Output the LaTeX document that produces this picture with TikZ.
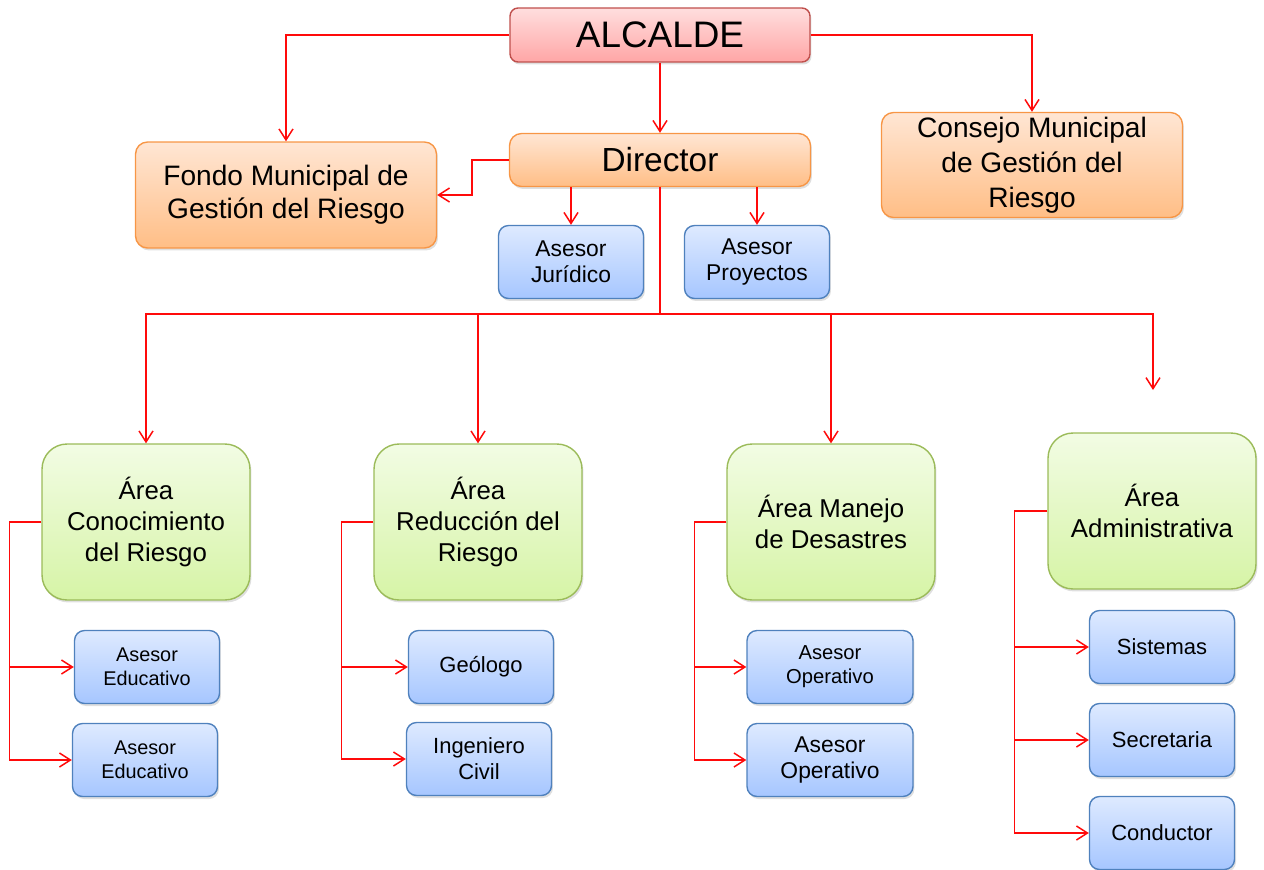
\documentclass[tikz,border=0pt]{standalone}
\usepackage{fontspec}
\setmainfont{Liberation Sans}
\usetikzlibrary{arrows.meta,shadows}

% colores
\definecolor{linea}{RGB}{255,10,10}
\definecolor{rojoborde}{RGB}{192,80,77}
\definecolor{rojoarriba}{RGB}{255,222,222}
\definecolor{rojoabajo}{RGB}{255,166,166}
\definecolor{naranjaborde}{RGB}{247,150,70}
\definecolor{naranjaarriba}{RGB}{255,230,212}
\definecolor{naranjaabajo}{RGB}{255,190,134}
\definecolor{azulborde}{RGB}{79,129,189}
\definecolor{azularriba}{RGB}{222,234,255}
\definecolor{azulabajo}{RGB}{166,198,255}
\definecolor{verdeborde}{RGB}{155,187,89}
\definecolor{verdearriba}{RGB}{242,252,228}
\definecolor{verdeabajo}{RGB}{214,244,166}

\tikzset{
  caja/.style={draw, align=center, inner sep=0pt, line width=0.8pt,
    drop shadow={opacity=0.25, shadow xshift=0.03cm, shadow yshift=-0.05cm}},
  jefe/.style={caja, rounded corners=0.16cm, draw=rojoborde,
    top color=rojoarriba, bottom color=rojoabajo,
    minimum width=6cm, minimum height=1.08cm, font=\fontsize{21}{25}\selectfont},
  naranja/.style={caja, rounded corners=0.24cm, draw=naranjaborde,
    top color=naranjaarriba, bottom color=naranjaabajo, minimum width=6.02cm},
  asesor/.style={caja, rounded corners=0.2cm, draw=azulborde,
    top color=azularriba, bottom color=azulabajo,
    minimum width=2.9cm, minimum height=1.46cm, font=\fontsize{12.5}{14.8}\selectfont},
  area/.style={caja, rounded corners=0.5cm, draw=verdeborde,
    top color=verdearriba, bottom color=verdeabajo,
    minimum width=4.16cm, minimum height=3.12cm, font=\fontsize{14.7}{17.4}\selectfont},
  rama/.style={linea, line width=0.85pt},
  flecha/.style={rama, -{Straight Barb[length=2.2mm,width=2.8mm]}},
}

\begin{document}
\begin{tikzpicture}[x=0.02cm, y=-0.02cm]
\useasboundingbox (0,0) rectangle (1264,869);

% Cabeza
\node[jefe] (alc) at (660,35) {ALCALDE};
\node[naranja, minimum height=1.06cm, font=\fontsize{19}{22}\selectfont] (dir) at (660,160) {Director};
\node[naranja, minimum height=2.12cm, font=\fontsize{16}{18.8}\selectfont] (fondo) at (286,195) {Fondo Municipal de\\Gesti\'on del Riesgo};
\node[naranja, minimum height=2.1cm, font=\fontsize{16}{20}\selectfont] (consejo) at (1032,165) {Consejo Municipal\\de Gesti\'on del\\Riesgo};

% Asesores del director
\node[asesor, font=\fontsize{13}{15}\selectfont] (jur) at (571,262) {Asesor\\Jur\'idico};
\node[asesor, font=\fontsize{13}{15}\selectfont] (proy) at (757,262) {Asesor\\Proyectos};

% Areas
\node[area] (conoc) at (146,522) {\'Area\\Conocimiento\\del Riesgo};
\node[area] (reduc) at (478,522) {\'Area\\Reducci\'on del\\Riesgo};
\node[area] (manejo) at (831,522) {\'Area Manejo\\de Desastres};
\node[area] (admin) at (1152,511) {\'Area\\Administrativa};

% Cargos
\node[asesor, font=\fontsize{11.3}{13.7}\selectfont] (edu1) at (147,667) {Asesor\\Educativo};
\node[asesor, font=\fontsize{11.3}{13.7}\selectfont] (edu2) at (145,760) {Asesor\\Educativo};
\node[asesor] (geo) at (481,667) {Ge\'ologo};
\node[asesor] (ing) at (479,759) {Ingeniero\\Civil};
\node[asesor, minimum width=3.32cm, font=\fontsize{11.5}{13.7}\selectfont] (ope1) at (830,667) {Asesor\\Operativo};
\node[asesor, minimum width=3.32cm, font=\fontsize{13}{15}\selectfont] (ope2) at (830,760) {Asesor\\Operativo};
\node[asesor] (sis) at (1162,647) {Sistemas};
\node[asesor] (sec) at (1162,740) {Secretaria};
\node[asesor] (con) at (1162,833) {Conductor};

% Conectores superiores
\draw[flecha] (alc.west) -| (fondo.north);
\draw[flecha] (alc.east) -| (consejo.north);
\draw[flecha] (alc) -- (dir);
\draw[flecha] (dir.west) -- ++(-37,0) |- (fondo.east);
\draw[flecha] (dir.south -| jur.north) -- (jur.north);
\draw[flecha] (dir.south -| proy.north) -- (proy.north);

% Tronco hacia las areas
\coordinate (bus) at (660,314);
\coordinate (libre) at (1153,390);
\draw[rama] (dir.south) -- (bus);
\draw[flecha] (bus) -| (conoc.north);
\draw[flecha] (bus) -| (reduc.north);
\draw[flecha] (bus) -| (manejo.north);
\draw[flecha] (bus) -| (libre);

% Ramas de cada area
\draw[rama] (conoc.west) -- ++(-32,0) coordinate (c1) -- (c1 |- edu2.west);
\foreach \n in {edu1,edu2} \draw[flecha] (c1) |- (\n.west);
\draw[rama] (reduc.west) -- ++(-32,0) coordinate (c2) -- (c2 |- ing.west);
\foreach \n in {geo,ing} \draw[flecha] (c2) |- (\n.west);
\draw[rama] (manejo.west) -- ++(-32,0) coordinate (c3) -- (c3 |- ope2.west);
\foreach \n in {ope1,ope2} \draw[flecha] (c3) |- (\n.west);
\draw[rama] (admin.west) -- ++(-33,0) coordinate (c4) -- (c4 |- con.west);
\foreach \n in {sis,sec,con} \draw[flecha] (c4) |- (\n.west);
\end{tikzpicture}
\end{document}
